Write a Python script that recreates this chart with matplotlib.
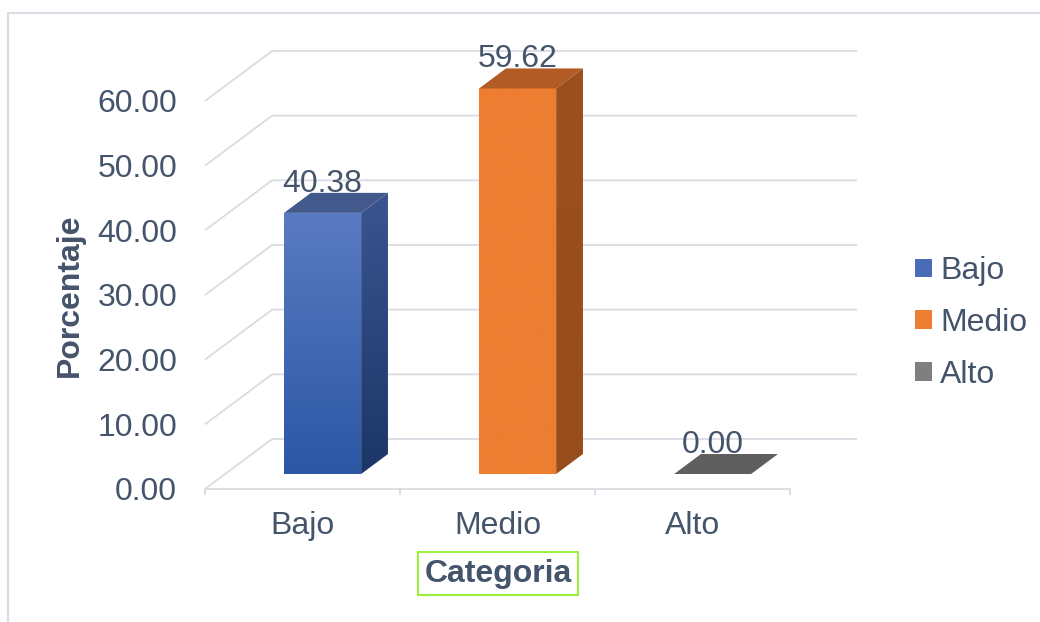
import numpy as np
import matplotlib.pyplot as plt
from matplotlib.patches import Polygon, Patch
from matplotlib.lines import Line2D
from matplotlib.colors import LinearSegmentedColormap

# datos del grafico
categorias = ['Bajo', 'Medio', 'Alto']
porcentajes = [40.38, 59.62, 0.00]
y_ticks = [0, 10, 20, 30, 40, 50, 60]

# colores: frente (abajo, arriba), lado (abajo, arriba), tapa, leyenda
frente = [('#2b57a5', '#5a7bc1'), ('#ed7d31', '#ed7d31'), ('#7f7f7f', '#7f7f7f')]
lado = [('#1c3667', '#3a5590'), ('#984d1c', '#9b501e'), ('#555555', '#555555')]
tapa = ['#43598b', '#b25b25', '#5f5f5f']
leyenda = ['#4a6cb6', '#ed7d31', '#7f7f7f']

texto = '#44546a'
grid_c = '#d9dce2'
FS = 23

# profundidad del "3D" en unidades de datos
DX = 0.344
DY = 7.73
D0, D1 = 0.3, 0.7
W = 0.395

plt.rcParams['font.family'] = ['Liberation Sans', 'DejaVu Sans']

fig = plt.figure(figsize=(10.4, 6.22), dpi=100)
ax = fig.add_axes([205 / 1040, 133 / 622, 585 / 1040, 452.7 / 622])


def proj(x, v, d):
    return x + d * DX, v + d * DY


def cara_gradiente(poly_pts, c_abajo, c_arriba):
    pts = np.array(poly_pts)
    cmap = LinearSegmentedColormap.from_list('g', [c_abajo, c_arriba])
    grad = np.linspace(0, 1, 256).reshape(-1, 1)
    im = ax.imshow(grad, cmap=cmap, origin='lower', aspect='auto', zorder=3,
                   extent=[pts[:, 0].min(), pts[:, 0].max(),
                           pts[:, 1].min(), pts[:, 1].max()])
    poly = Polygon(pts, closed=True, transform=ax.transData)
    im.set_clip_path(poly)


# rejilla: pared izquierda + pared del fondo
for v in y_ticks:
    x0, y0 = proj(-0.5, v, 0)
    x1, y1 = proj(-0.5, v, 1)
    x2, y2 = proj(len(categorias) - 0.5, v, 1)
    ax.plot([x0, x1, x2], [y0, y1, y2], color=grid_c, lw=1.3, zorder=1,
            clip_on=False, solid_capstyle='butt')
ax.plot([-0.5, len(categorias) - 0.5], [0, 0], color=grid_c, lw=1.3,
        zorder=1, clip_on=False)

# barras
for i, v in enumerate(porcentajes):
    xl, xr = i - W / 2, i + W / 2
    if v > 0:
        cara_gradiente([proj(xl, 0, D0), proj(xr, 0, D0), proj(xr, v, D0), proj(xl, v, D0)],
                       frente[i][0], frente[i][1])
        cara_gradiente([proj(xr, 0, D0), proj(xr, 0, D1), proj(xr, v, D1), proj(xr, v, D0)],
                       lado[i][0], lado[i][1])
    ax.add_patch(Polygon([proj(xl, v, D0), proj(xr, v, D0), proj(xr, v, D1), proj(xl, v, D1)],
                         closed=True, facecolor=tapa[i], edgecolor='none', zorder=4))
    lx = proj(i, v, D0)[0]
    ly = proj(i, v, D1)[1]
    ax.text(lx, ly + 0.2, f'{v:.2f}', ha='center', va='baseline', fontsize=FS,
            color=texto, zorder=5)

ax.set_xlim(-0.5, len(categorias) - 0.5)
ax.set_ylim(0, 70)
ax.set_yticks(y_ticks)
ax.set_yticklabels([f'{t:.2f}' for t in y_ticks])
ax.set_xticks(range(len(categorias)))
ax.set_xticklabels(categorias)
ax.set_xticks(np.arange(-0.5, len(categorias)), minor=True)
ax.tick_params(axis='y', length=0, pad=20, labelsize=FS, labelcolor=texto)
ax.tick_params(axis='x', which='major', length=0, pad=16, labelsize=FS, labelcolor=texto)
ax.tick_params(axis='x', which='minor', length=4.5, width=1.3, color=grid_c)
for s in ax.spines.values():
    s.set_visible(False)
ax.patch.set_alpha(0)

ax.set_ylabel('Porcentaje', fontsize=FS, fontweight='bold', color=texto,
              va='center', ha='center')
ax.yaxis.set_label_coords(-0.231, 0.4286)
ax.set_xlabel('Categoria', fontsize=FS, fontweight='bold', color=texto,
              va='center', ha='center',
              bbox=dict(boxstyle='square,pad=0.2', facecolor='white',
                        edgecolor='#9af23c', linewidth=1.5))
ax.xaxis.set_label_coords(0.501, -0.187)

# leyenda
handles = [Patch(facecolor=c, edgecolor='none') for c in leyenda]
fig.legend(handles, categorias, loc='center left', bbox_to_anchor=(915 / 1040, 0.4807),
           frameon=False, fontsize=FS, labelcolor=texto, handlelength=0.53,
           handleheight=0.53, handletextpad=0.25, labelspacing=0.68,
           borderpad=0, borderaxespad=0)

# marco exterior
fig.add_artist(Line2D([8 / 1040, 8 / 1040], [0, 1 - 13 / 622], color=grid_c, lw=1.5,
                      transform=fig.transFigure))
fig.add_artist(Line2D([8 / 1040, 1], [1 - 13 / 622, 1 - 13 / 622], color=grid_c, lw=1.5,
                      transform=fig.transFigure))

fig.savefig('out.png', dpi=100)
